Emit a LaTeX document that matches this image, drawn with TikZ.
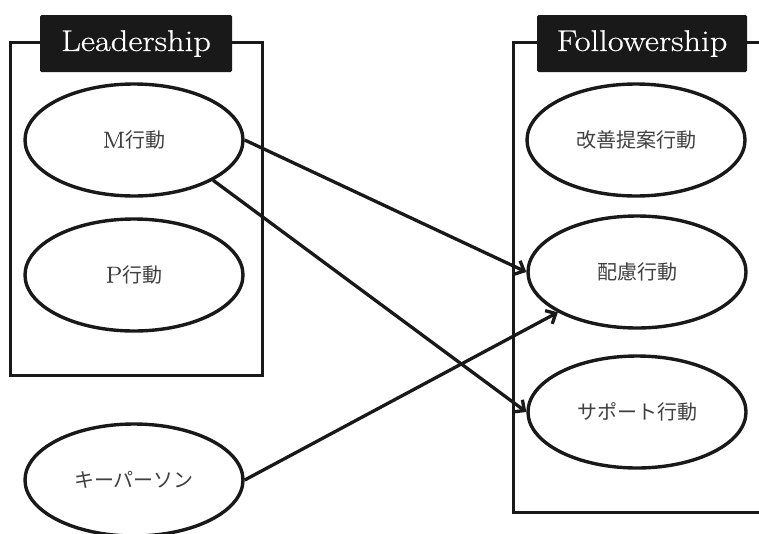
\documentclass[tikz,border=0pt]{standalone}
\usepackage{fontspec}
\newfontfamily\jp{Noto Sans CJK JP}
\newfontfamily\titlefont[FakeStretch=1.15,FakeBold=0.6]{Latin Modern Roman}
\usetikzlibrary{shapes.geometric,arrows.meta}
\begin{document}
\begin{tikzpicture}[x=1pt,y=-1pt,
  oval/.style={draw=black!90,line width=3.4pt,ellipse,minimum width=218pt,minimum height=112pt,inner sep=0pt,font=\fontsize{20}{22}\selectfont,text=black!75},
  titlebox/.style={fill=black!90,text=white,rounded corners=1.5pt,minimum height=57pt,inner sep=0pt,font=\titlefont\fontsize{30}{32}\selectfont},
  frame/.style={draw=black!90,line width=3pt},
  link/.style={draw=black!90,line width=3.3pt,-{Straight Barb[length=8pt,width=15pt,line width=3.3pt]}}]
\clip (0,0) rectangle (759,533);
\useasboundingbox (0,0) rectangle (759,533);
\fill[white] (0,0) rectangle (759,533);
% frames
\draw[frame] (10,42) rectangle (262,375);
\draw[frame] (770,42) -- (513,42) -- (513,512) -- (770,512);
% titles
\node[titlebox,minimum width=192pt] (lt) at (136,43.5) {Leadership};
\node[titlebox,minimum width=210pt] (ft) at (642,43.5) {Followership};
% ellipses
\node[oval] (m) at (134,140) {{\titlefont\fontsize{23}{24}\selectfont M}{\jp 行動}};
\node[oval] (p) at (134,275) {{\titlefont\fontsize{23}{24}\selectfont P}{\jp 行動}};
\node[oval] (k) at (134,480) {\jp キーパーソン};
\node[oval] (a) at (636,140) {\jp 改善提案行動};
\node[oval] (h) at (637,272) {\jp 配慮行動};
\node[oval] (s) at (637,412) {\jp サポート行動};
% arrows
\draw[link] (m.east) -- (h.west);
\draw[link] (m.-27) -- (s.west);
\draw[link] (k.east) -- (h.207);
\end{tikzpicture}
\end{document}
